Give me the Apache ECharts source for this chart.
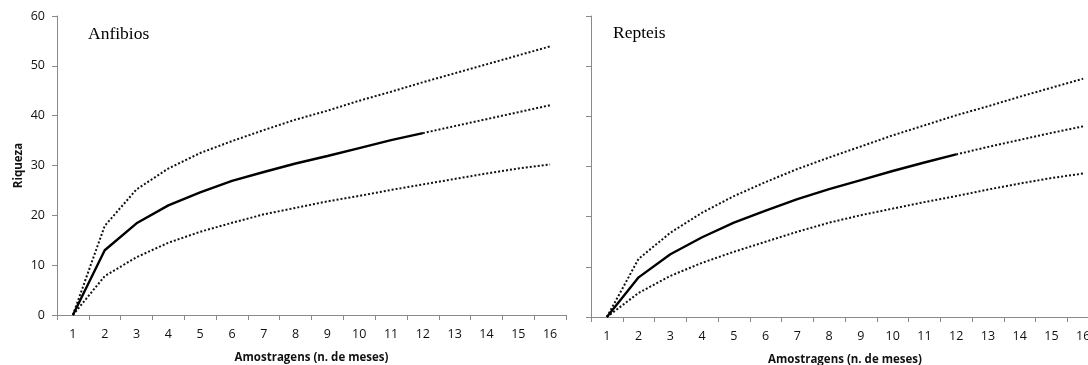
<!DOCTYPE html>
<html>
<head>
<meta charset="utf-8">
<script src="https://cdn.jsdelivr.net/npm/echarts@6/dist/echarts.min.js"></script>
<style>
html,body{margin:0;padding:0;background:#fff;}
#c{width:1088px;height:365px;}
</style>
</head>
<body>
<div id="c"></div>
<script>
// Categories (n. de meses)
const categories = ['1','2','3','4','5','6','7','8','9','10','11','12','13','14','15','16'];
const yTicks = [0, 10, 20, 30, 40, 50, 60];

// Anfibios
const anfObserved = [0, 13.0, 18.4, 22.0, 24.6, 26.9, 28.7, 30.4, 31.9, 33.5, 35.1, 36.5];
const anfExtrap   = [36.5, 37.9, 39.3, 40.7, 42.1]; // months 12..16
const anfUpper    = [0, 17.9, 25.2, 29.4, 32.5, 34.9, 37.1, 39.2, 41.0, 43.0, 44.8, 46.7, 48.5, 50.3, 52.1, 53.9];
const anfLower    = [0, 7.8, 11.6, 14.5, 16.7, 18.5, 20.2, 21.5, 22.8, 23.9, 25.1, 26.2, 27.3, 28.4, 29.4, 30.2];

// Repteis
const repObserved = [0, 7.9, 12.5, 15.9, 18.8, 21.2, 23.5, 25.5, 27.3, 29.1, 30.8, 32.4];
const repExtrap   = [32.4, 33.9, 35.3, 36.7, 38.0];
const repUpper    = [0, 11.6, 16.8, 20.8, 24.1, 26.9, 29.5, 31.8, 34.0, 36.2, 38.2, 40.2, 42.0, 43.9, 45.7, 47.5];
const repLower    = [0, 4.8, 8.2, 10.8, 13.0, 15.0, 17.0, 18.8, 20.3, 21.6, 22.9, 24.1, 25.4, 26.6, 27.7, 28.6];

const titles = ['Anfibios', 'Repteis'];
const xName = 'Amostragens (n. de meses)';
const yName = 'Riqueza';

function pad(arr, startIdx) {
  const out = categories.map(() => null);
  arr.forEach((v, i) => { out[startIdx + i] = v; });
  return out;
}

const axisColor = '#8a8a8a';
const labelFont = 'Open Sans';

function xAxis(gi) {
  return {
    type: 'category', gridIndex: gi, data: categories, boundaryGap: true,
    name: xName, nameLocation: 'middle', nameGap: 37,
    nameTextStyle: { fontFamily: labelFont, fontWeight: 'bold', fontSize: 11.5, color: '#111' },
    axisLine: { lineStyle: { color: axisColor, width: 1 } },
    axisTick: { show: true, alignWithLabel: false, length: 5, lineStyle: { color: axisColor } },
    axisLabel: { fontFamily: labelFont, fontSize: 12.5, color: '#111', margin: 13 },
    splitLine: { show: false }
  };
}
function yAxis(gi, showLabels) {
  return {
    type: 'value', gridIndex: gi, min: 0, max: 60, interval: 10,
    name: showLabels ? yName : '', nameLocation: 'middle', nameGap: 32, nameRotate: 90,
    nameTextStyle: { fontFamily: labelFont, fontWeight: 'bold', fontSize: 11.5, color: '#111' },
    axisLine: { show: true, lineStyle: { color: axisColor, width: 1 } },
    axisTick: { show: true, length: 5, lineStyle: { color: axisColor } },
    axisLabel: { show: showLabels, fontFamily: labelFont, fontSize: 12.5, color: '#111', margin: 12 },
    splitLine: { show: false }
  };
}

const dotted = { color: '#111', width: 2, type: [2, 2] };
const solid = { color: '#000', width: 2.4 };

function seriesFor(gi, obs, ext, up, low) {
  const base = { type: 'line', xAxisIndex: gi, yAxisIndex: gi, symbol: 'none', silent: true, connectNulls: false };
  return [
    Object.assign({}, base, { data: up, lineStyle: dotted }),
    Object.assign({}, base, { data: low, lineStyle: dotted }),
    Object.assign({}, base, { data: pad(ext, obs.length - 1), lineStyle: dotted }),
    Object.assign({}, base, { data: pad(obs, 0), lineStyle: solid, z: 5 })
  ];
}

const chart = echarts.init(document.getElementById('c'));
chart.setOption({
  animation: false,
  backgroundColor: '#fff',
  title: [
    { text: titles[0], left: 88, top: 25, padding: 0, textStyle: { fontFamily: 'Liberation Serif', fontSize: 17.5, fontWeight: 'normal', color: '#000' } },
    { text: titles[1], left: 613, top: 24, padding: 0, textStyle: { fontFamily: 'Liberation Serif', fontSize: 17.5, fontWeight: 'normal', color: '#000' } }
  ],
  grid: [
    { left: 57, top: 16, width: 509, bottom: 50, outerBoundsMode: 'none', containLabel: false },
    { left: 591, top: 16, width: 508, bottom: 48, outerBoundsMode: 'none', containLabel: false }
  ],
  xAxis: [xAxis(0), xAxis(1)],
  yAxis: [yAxis(0, true), yAxis(1, false)],
  series: [].concat(
    seriesFor(0, anfObserved, anfExtrap, anfUpper, anfLower),
    seriesFor(1, repObserved, repExtrap, repUpper, repLower)
  )
});
</script>
</body>
</html>
